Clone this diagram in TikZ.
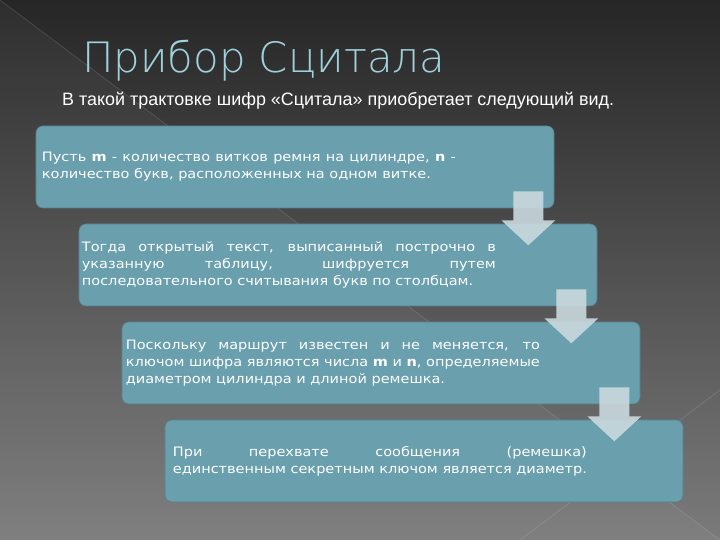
\documentclass[tikz,border=0pt]{standalone}
\usepackage{fontspec}
\setmainfont{DejaVu Sans}[FakeStretch=1.12]
\newfontfamily\titlefont{DejaVu Sans ExtraLight}
\newfontfamily\subfont{Liberation Sans}
\usetikzlibrary{calc}

\definecolor{boxteal}{HTML}{6A9FAD}
\definecolor{boxedge}{HTML}{557F8B}
\definecolor{arrowgrey}{HTML}{CAD9DE}
\definecolor{titleblue}{HTML}{9FD0DC}

\tikzset{
  stage/.style={rectangle, rounded corners=7bp, fill=boxteal, draw=boxedge,
    line width=0.6bp, minimum width=518bp, minimum height=82bp},
  stagetext/.style={anchor=west, text=white, text width=414bp, align=justify,
    inner sep=0pt, font=\fontsize{13}{17}\selectfont},
  downarrow/.style={fill=arrowgrey, fill opacity=0.9},
}

\begin{document}
\begin{tikzpicture}[x=1bp,y=1bp]
\useasboundingbox (0,0) rectangle (720,540);
% background
\shade[top color=black!85, bottom color=black!52] (0,0) rectangle (720,540);
\fill[white, opacity=0.04] (0,540) -- (720,0) -- (0,0) -- cycle;
\draw[white, opacity=0.12, line width=0.8bp] (0,540) -- (720,0);
\draw[white, opacity=0.12, line width=0.8bp] (720,150) -- (520,0);

% title
\node[anchor=base west, inner sep=0pt, text=titleblue,
  font=\titlefont\fontsize{42}{42}\selectfont] (title) at (82,467) {Прибор Сцитала};
\node[anchor=base west, inner sep=0pt, text=white,
  font=\subfont\fontsize{18}{20}\selectfont] (lead) at (62,434)
  {В такой трактовке шифр «Сцитала» приобретает следующий вид.};

% stages
\node[stage] (b1) at (295,373) {};
\node[stage] (b2) at (338,275) {};
\node[stage] (b3) at (381,177) {};
\node[stage] (b4) at (424,79) {};

\node[stagetext] (t1) at ($(b1.west)+(6,0)$)
  {Пусть \textbf{m} - количество витков ремня на цилиндре, \textbf{n} -\linebreak
   количество букв, расположенных на одном витке.};
\node[stagetext] (t2) at ($(b2.west)+(3,0)$)
  {Тогда открытый текст, выписанный построчно в\linebreak
   указанную таблицу, шифруется путем\linebreak
   последовательного считывания букв по столбцам.};
\node[stagetext] (t3) at ($(b3.west)+(4,0)$)
  {Поскольку маршрут известен и не меняется, то\linebreak
   ключом шифра являются числа \textbf{m} и \textbf{n}, определяемые\linebreak
   диаметром цилиндра и длиной ремешка.};
\node[stagetext] (t4) at ($(b4.west)+(8,0)$)
  {При перехвате сообщения (ремешка)\linebreak
   единственным секретным ключом является диаметр.};

% block arrows between stages
\foreach \b in {b1,b2,b3}
  \fill[downarrow] ($(\b.south east)+(-41,17)$) -- ($(\b.south east)+(-11,17)$)
    -- ($(\b.south east)+(-11,-12)$) -- ($(\b.south east)+(1,-12)$)
    -- ($(\b.south east)+(-26,-37)$) -- ($(\b.south east)+(-53,-12)$)
    -- ($(\b.south east)+(-41,-12)$) -- cycle;
\end{tikzpicture}
\end{document}
